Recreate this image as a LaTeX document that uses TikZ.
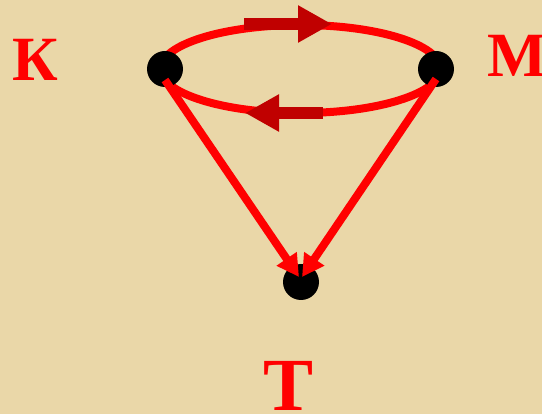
\documentclass[tikz,border=0pt]{standalone}
\usepackage{xcolor}
\usepackage{fontspec}
\setmainfont{Liberation Serif}
\usepackage{tikz}
\usetikzlibrary{positioning, arrows.meta, calc}
\definecolor{parchment}{HTML}{EAD7A8}
\definecolor{linkred}{HTML}{FF0000}
\definecolor{flowred}{HTML}{C00000}

\tikzset{
  dot/.style={circle, fill=black, inner sep=0pt, minimum size=36pt},
  lbl/.style={text=linkred, font=\bfseries\fontsize{63}{63}\selectfont, inner sep=0pt, anchor=base},
  ring/.style={draw=linkred, line width=8pt},
  link/.style={draw=linkred, line width=8pt, -{Triangle[length=22pt, width=23pt]}},
  flow/.style={draw=flowred, line width=12pt, -{Triangle[length=34pt, width=35pt]}}
}

\begin{document}
\begin{tikzpicture}[x=1pt, y=-1pt]
    % background
    \fill[parchment] (0,0) rectangle (542,414);
    \useasboundingbox (0,0) rectangle (542,414);

    % the ring between K and M
    \coordinate (mid) at (300.5,69);
    \draw[ring] (mid) ellipse [x radius=140pt, y radius=44pt];
    \draw[flow] (244,24) -- (332,24);
    \draw[flow] (323,113) -- (245,113);

    % points
    \node[dot] (K) at (165,69) {};
    \node[dot] (M) at (436,69) {};
    \node[dot] (T) at (301,282) {};

    % links to T
    \draw[link] ([yshift=-11pt]K.center) -- ([xshift=-2pt, yshift=5pt]T.center);
    \draw[link] ([yshift=-10pt]M.center) -- ([xshift=1pt, yshift=5pt]T.center);

    % labels
    \node[lbl] (labK) at (35.5,81) {К};
    \node[lbl] (labM) at (517,77) {М};
    \node[lbl, font=\bfseries\fontsize{75}{75}\selectfont] (labT) at (288.5,411) {Т};
\end{tikzpicture}
\end{document}
